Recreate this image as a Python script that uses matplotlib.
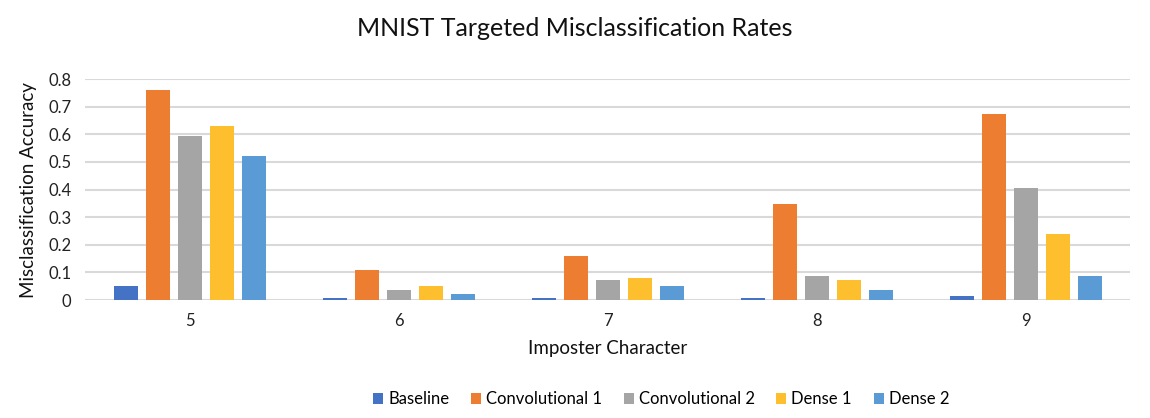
import numpy as np
import matplotlib
matplotlib.use("Agg")
import matplotlib.pyplot as plt

plt.rcParams['font.family'] = ['Lato', 'DejaVu Sans']

categories = ['5', '6', '7', '8', '9']
series = ['Baseline', 'Convolutional 1', 'Convolutional 2', 'Dense 1', 'Dense 2']
baseline = [0.051, 0.007, 0.007, 0.007, 0.014]
conv1 = [0.761, 0.109, 0.159, 0.348, 0.674]
conv2 = [0.594, 0.036, 0.072, 0.087, 0.406]
dense1 = [0.630, 0.051, 0.080, 0.072, 0.239]
dense2 = [0.522, 0.022, 0.051, 0.036, 0.087]
colors = ['#4472c4', '#ed7d31', '#a5a5a5', '#fdbf2d', '#5b9bd5']

fig = plt.figure(figsize=(11.5, 4.18), dpi=100)
ax = fig.add_axes([0.074, 0.282, 0.909, 0.529])

x = np.arange(len(categories))
step = 0.153
width = 0.115
for i, (name, vals) in enumerate(zip(series, [baseline, conv1, conv2, dense1, dense2])):
    ax.bar(x + (i - 2) * step, vals, width, color=colors[i], label=name, zorder=3)

ax.set_xlim(-0.5, 4.5)
ax.set_ylim(0, 0.8)
ax.set_yticks(np.arange(0, 0.81, 0.1))
ax.set_yticklabels(['0'] + ['%.1f' % v for v in np.arange(0.1, 0.81, 0.1)])
ax.set_xticks(x)
ax.set_xticklabels(categories)
ax.grid(axis='y', color='#d9d9d9', linewidth=1.5, zorder=0)
ax.set_axisbelow(True)
for s in ax.spines.values():
    s.set_visible(False)
ax.tick_params(axis='both', length=0, labelsize=12, colors='#222222')
ax.tick_params(axis='x', pad=9)
ax.tick_params(axis='y', pad=10)

ax.set_ylabel('Misclassification Accuracy', fontsize=13.5, color='#111111', labelpad=8)
ax.set_xlabel('Imposter Character', fontsize=13.5, color='#111111', labelpad=8)
fig.suptitle('MNIST Targeted Misclassification Rates', fontsize=18, y=0.96, color='#111111')

fig.legend(loc='center', bbox_to_anchor=(0.575, 0.045), ncol=5, frameon=False,
           fontsize=12, handlelength=0.6, handleheight=0.6, handletextpad=0.3,
           columnspacing=1.3)

fig.savefig('out.png', dpi=100)
